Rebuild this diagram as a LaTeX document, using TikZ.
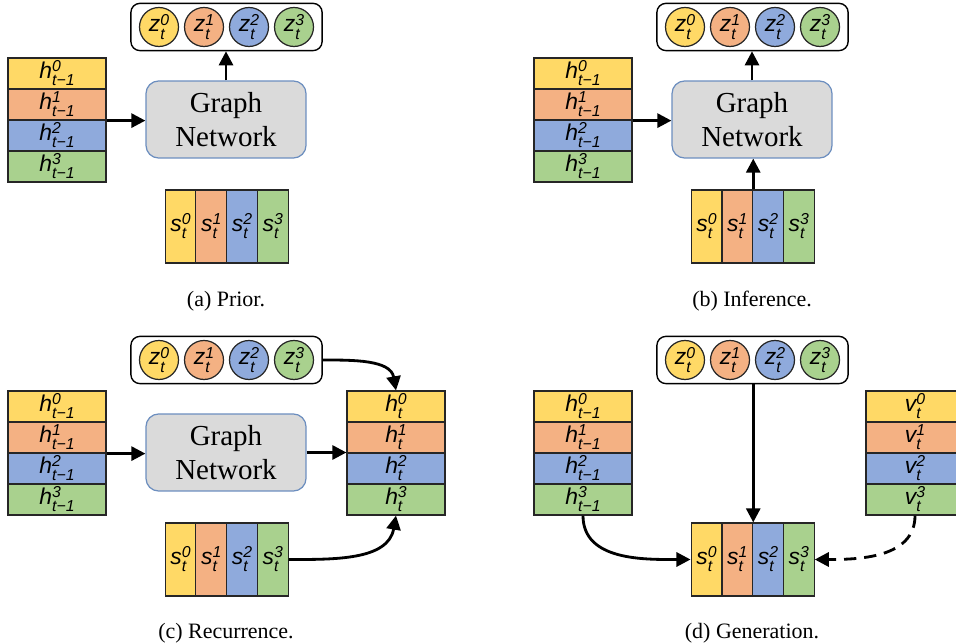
\documentclass[tikz,border=0pt]{standalone}
\usepackage{fontspec}
\setmainfont{Liberation Serif}
\newfontfamily\lblfont{Liberation Sans}
\usepackage{xcolor}
\usepackage{tikz}
\usetikzlibrary{arrows.meta,positioning,fit,calc}
\definecolor{slotA}{HTML}{FFD966}
\definecolor{slotB}{HTML}{F4B183}
\definecolor{slotC}{HTML}{8FAADC}
\definecolor{slotD}{HTML}{A9D18E}
\definecolor{gnfill}{HTML}{DADADA}
\definecolor{gnline}{HTML}{6C8EBF}
% slot label: letter, slot index (up), time (down)
\newcommand{\slot}[3]{{\lblfont\itshape #1%
    \setbox0=\hbox{\fontsize{9}{10}\selectfont #2}%
    \setbox2=\hbox{\fontsize{9}{10}\selectfont #3}%
    \ifdim\wd0>\wd2 \dimen0=\wd0 \else \dimen0=\wd2 \fi
    \hbox to \dimen0{\rlap{\raise3.6pt\box0}\lower4.4pt\box2\hss}}}

\begin{document}
\begin{tikzpicture}[x=0.02cm,y=-0.02cm]
    % `row' is one slot of a vertical stack, `col' one slot of a horizontal one.
    % `zslot' is a latent circle, `zbox' the frame round the latents.
    % `gn' is the graph network box, `flow' the arrows.
    \tikzstyle{row} = [draw=black!85,line width=0.7pt,minimum width=1.96cm,minimum height=0.62cm,inner sep=0pt,font=\fontsize{13}{15}\selectfont]
    \tikzstyle{col} = [draw=black!85,line width=0.7pt,minimum width=0.615cm,minimum height=1.46cm,inner sep=0pt,font=\fontsize{13}{15}\selectfont]
    \tikzstyle{zslot} = [draw=black!85,line width=0.7pt,circle,minimum size=0.78cm,inner sep=0pt,font=\fontsize{13}{15}\selectfont]
    \tikzstyle{zbox} = [draw,line width=0.8pt,rounded corners=1.8mm,inner xsep=0.16cm,inner ysep=0.07cm]
    \tikzstyle{gn} = [draw=gnline,fill=gnfill,line width=0.7pt,rounded corners=2.5mm,minimum width=3.2cm,minimum height=1.54cm,align=center,font=\fontsize{16.5}{19.5}\selectfont]
    \tikzstyle{flow} = [-{Triangle[length=8pt,width=8pt]},line width=1.6pt]
    \tikzstyle{caption} = [font=\fontsize{12.5}{15}\selectfont]
    \useasboundingbox (0,0) rectangle (956,644);
    %
    % (a) Prior.
    \foreach \i/\c in {0/slotA,1/slotB,2/slotC,3/slotD} {
        \node[row,fill=\c] (ha\i) at (57,73.5+31*\i) {\slot{h}{\i}{t−1}};
        \node[zslot,fill=\c] (za\i) at (159+45*\i,27) {\slot{z}{\i}{t}};
        \node[col,fill=\c] (sa\i) at (180.5+30.75*\i,226.5) {\slot{s}{\i}{t}};
    }
    \node[zbox,fit=(za0) (za3)] (za) {};
    \node[gn] (gna) at (226,119.5) {Graph\\Network};
    \draw[flow] (ha1.south east) -- (ha1.south east -| gna.west);
    \draw[flow] (gna.north) -- (gna.north |- za.south);
    \node[caption] (capa) at (226,301) {(a) Prior.};
    %
    % (b) Inference.
    \begin{scope}[shift={(526,0)}]
    \foreach \i/\c in {0/slotA,1/slotB,2/slotC,3/slotD} {
        \node[row,fill=\c] (hb\i) at (57,73.5+31*\i) {\slot{h}{\i}{t−1}};
        \node[zslot,fill=\c] (zb\i) at (159+45*\i,27) {\slot{z}{\i}{t}};
        \node[col,fill=\c] (sb\i) at (180.5+30.75*\i,226.5) {\slot{s}{\i}{t}};
    }
    \node[zbox,fit=(zb0) (zb3)] (zb) {};
    \node[gn] (gnb) at (226,119.5) {Graph\\Network};
    \draw[flow] (hb1.south east) -- (hb1.south east -| gnb.west);
    \draw[flow] (gnb.north) -- (gnb.north |- zb.south);
    \draw[flow] (sb1.north east) -- (sb1.north east |- gnb.south);
    \node[caption] (capb) at (226,301) {(b) Inference.};
    \end{scope}
    %
    % (c) Recurrence.
    \begin{scope}[shift={(0,333)}]
    \foreach \i/\c in {0/slotA,1/slotB,2/slotC,3/slotD} {
        \node[row,fill=\c] (hc\i) at (57,73.5+31*\i) {\slot{h}{\i}{t−1}};
        \node[row,fill=\c] (ht\i) at (396,73.5+31*\i) {\slot{h}{\i}{t}};
        \node[zslot,fill=\c] (zc\i) at (159+45*\i,27) {\slot{z}{\i}{t}};
        \node[col,fill=\c] (sc\i) at (180.5+30.75*\i,226.5) {\slot{s}{\i}{t}};
    }
    \node[zbox,fit=(zc0) (zc3)] (zc) {};
    \node[gn] (gnc) at (226,119.5) {Graph\\Network};
    \draw[flow] (hc1.south east) -- (hc1.south east -| gnc.west);
    \draw[flow] (gnc.east) -- (gnc.east -| ht1.west);
    \draw[flow] (zc.east) to[out=0,in=100] (ht0.north);
    \draw[flow] (sc3.east) to[out=0,in=-100] (ht3.south);
    \node[caption] (capc) at (226,300) {(c) Recurrence.};
    \end{scope}
    %
    % (d) Generation.
    \begin{scope}[shift={(526,333)}]
    \foreach \i/\c in {0/slotA,1/slotB,2/slotC,3/slotD} {
        \node[row,fill=\c] (hd\i) at (57,73.5+31*\i) {\slot{h}{\i}{t−1}};
        \node[row,fill=\c] (vt\i) at (389,73.5+31*\i) {\slot{v}{\i}{t}};
        \node[zslot,fill=\c] (zd\i) at (159+45*\i,27) {\slot{z}{\i}{t}};
        \node[col,fill=\c] (sd\i) at (180.5+30.75*\i,226.5) {\slot{s}{\i}{t}};
    }
    \node[zbox,fit=(zd0) (zd3)] (zd) {};
    \draw[flow] (sd1.north east |- zd.south) -- (sd1.north east);
    \draw[flow] (hd3.south) to[out=-90,in=180] (sd0.west);
    \draw[flow,dash pattern=on 7pt off 4.5pt] (vt3.south) to[out=-90,in=0] (sd3.east);
    \node[caption] (capd) at (226,300) {(d) Generation.};
    \end{scope}
\end{tikzpicture}
\end{document}
